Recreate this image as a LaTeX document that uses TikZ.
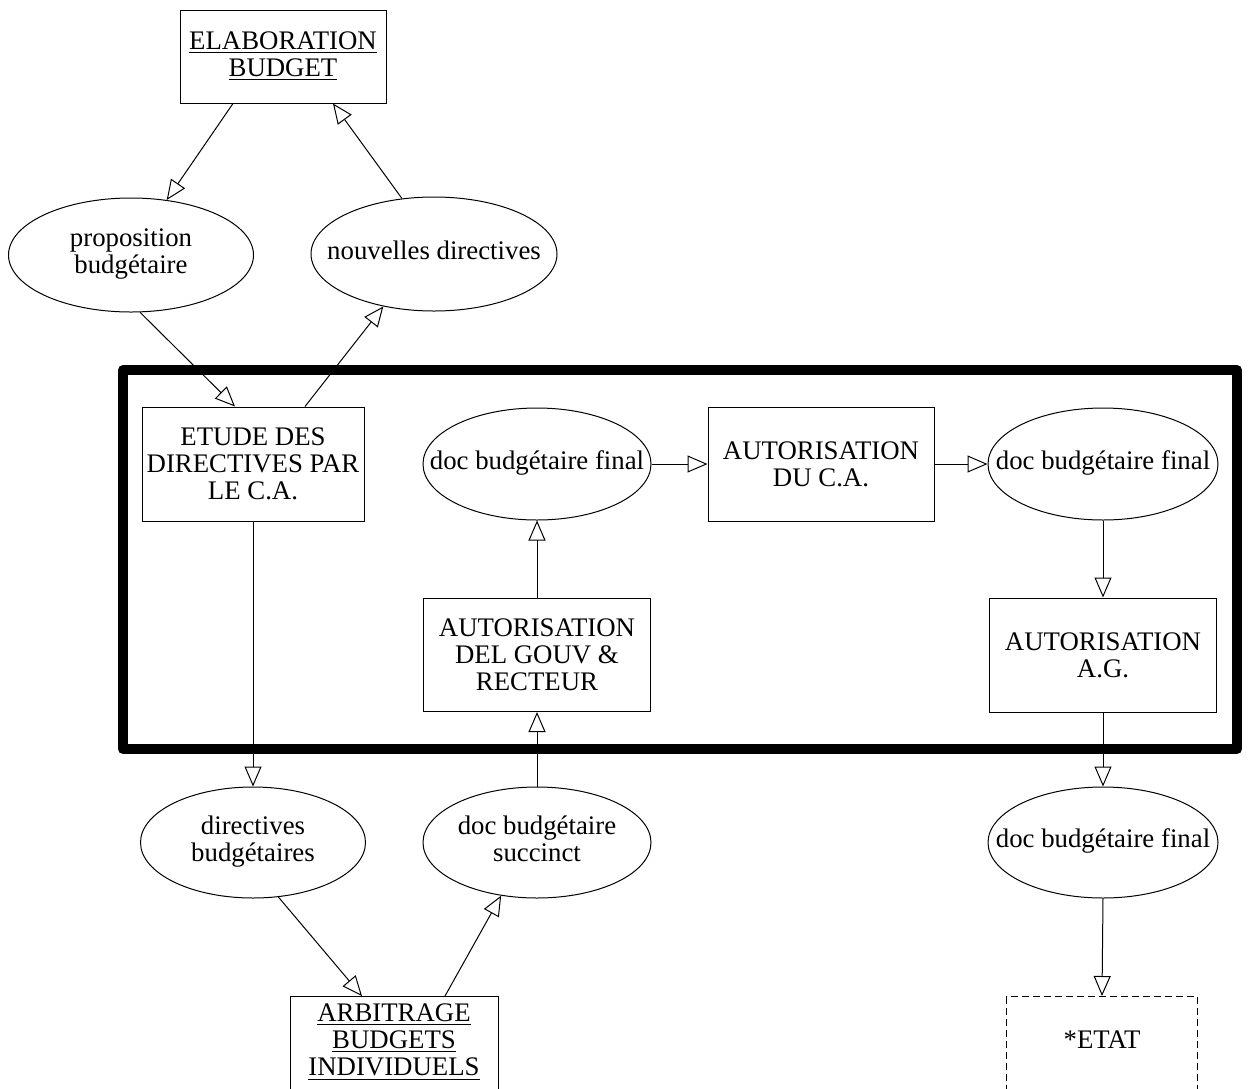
\documentclass[tikz,border=0pt]{standalone}
\usepackage{fontspec}
\setmainfont{Liberation Serif}
\usepackage{tikz}
\usetikzlibrary{shapes.geometric}
\usetikzlibrary{arrows.meta}
\newcommand{\ovaltext}[1]{\makebox[0pt]{\begin{tabular}{@{}c@{}}#1\end{tabular}}}
\newcommand{\liftedtext}[2]{\raisebox{#1}[0pt][0pt]{\begin{tabular}{@{}c@{}}#2\end{tabular}}}

\begin{document}
\begin{tikzpicture}[
		x=0.5pt,y=-0.5pt,
		every node/.style={font=\fontsize{13.4}{13.5}\selectfont,line width=0.5pt},
		procbox/.style={draw,rectangle,align=center,inner sep=1pt},
		docoval/.style={draw,ellipse,inner sep=0pt},
		flow/.style={line width=0.5pt,-{Triangle[open,length=10pt,width=8.5pt]}},
		frame/.style={line width=5pt,line join=round}
		]
		\useasboundingbox (0,0) rectangle (1248,1088);
		\draw[frame] (123,370) rectangle (1237,749);
		\node (elab) [procbox,minimum width=103pt,minimum height=46.5pt] at (283,56.5) {\underline{ELABORATION}\\\underline{BUDGET}};
		\node (propo) [docoval,minimum width=122.5pt,minimum height=57pt] at (131,255) {\ovaltext{proposition\\budgétaire}};
		\node (nouv) [docoval,minimum width=123pt,minimum height=57pt] at (434,254) {\ovaltext{nouvelles directives}};
		\node (etude) [procbox,minimum width=111pt,minimum height=57pt] at (253,464) {ETUDE DES\\DIRECTIVES PAR\\LE C.A.};
		\node (docfinA) [docoval,minimum width=114pt,minimum height=56pt] at (537,464) {\ovaltext{doc budgétaire final}};
		\node (autca) [procbox,minimum width=113pt,minimum height=57pt] at (821,464) {AUTORISATION\\DU C.A.};
		\node (docfinB) [docoval,minimum width=115pt,minimum height=56pt] at (1103,464) {\ovaltext{doc budgétaire final}};
		\node (gouv) [procbox,minimum width=113.5pt,minimum height=56.5pt] at (537,655) {AUTORISATION\\DEL GOUV \&\\RECTEUR};
		\node (autag) [procbox,minimum width=113.5pt,minimum height=57pt] at (1103,655) {AUTORISATION\\A.G.};
		\node (direc) [docoval,minimum width=112.5pt,minimum height=55.5pt] at (253,842.5) {\ovaltext{directives\\budgétaires}};
		\node (succ) [docoval,minimum width=114pt,minimum height=55.5pt] at (537,842.5) {\ovaltext{doc budgétaire\\succinct}};
		\node (docfinC) [docoval,minimum width=115pt,minimum height=55.5pt] at (1103,842.5) {\ovaltext{doc budgétaire final}};
		\node (arbit) [procbox,anchor=north,minimum width=104pt,minimum height=62pt] at (394,996) {\liftedtext{4pt}{\underline{ARBITRAGE}\\\underline{BUDGETS}\\\underline{INDIVIDUELS}}};
		\node (etat) [procbox,dash pattern=on 3.5pt off 2pt,anchor=north,minimum width=95.5pt,minimum height=62pt] at (1102,996) {\liftedtext{4pt}{*ETAT}};
		\draw[flow] ([xshift=-25pt]elab.south) -- (propo.57);
		\draw[flow] (nouv.120) -- ([xshift=25pt]elab.south);
		\draw[flow] (propo.-81) -- ([xshift=-9pt]etude.north);
		\draw[flow] ([xshift=26pt]etude.north) -- (nouv.-134);
		\draw[flow] (etude.south) -- (direc.north);
		\draw[flow] (direc.-65) -- ([xshift=-16pt]arbit.north);
		\draw[flow] ([xshift=25.5pt]arbit.north) -- (succ.-124);
		\draw[flow] (succ.north) -- (gouv.south);
		\draw[flow] (gouv.north) -- (docfinA.south);
		\draw[flow] (docfinA.east) -- (autca.west);
		\draw[flow] (autca.east) -- (docfinB.west);
		\draw[flow] (docfinB.south) -- (autag.north);
		\draw[flow] (autag.south) -- (docfinC.north);
		\draw[flow] (docfinC.south) -- (etat.north);
	\end{tikzpicture}
\end{document}
